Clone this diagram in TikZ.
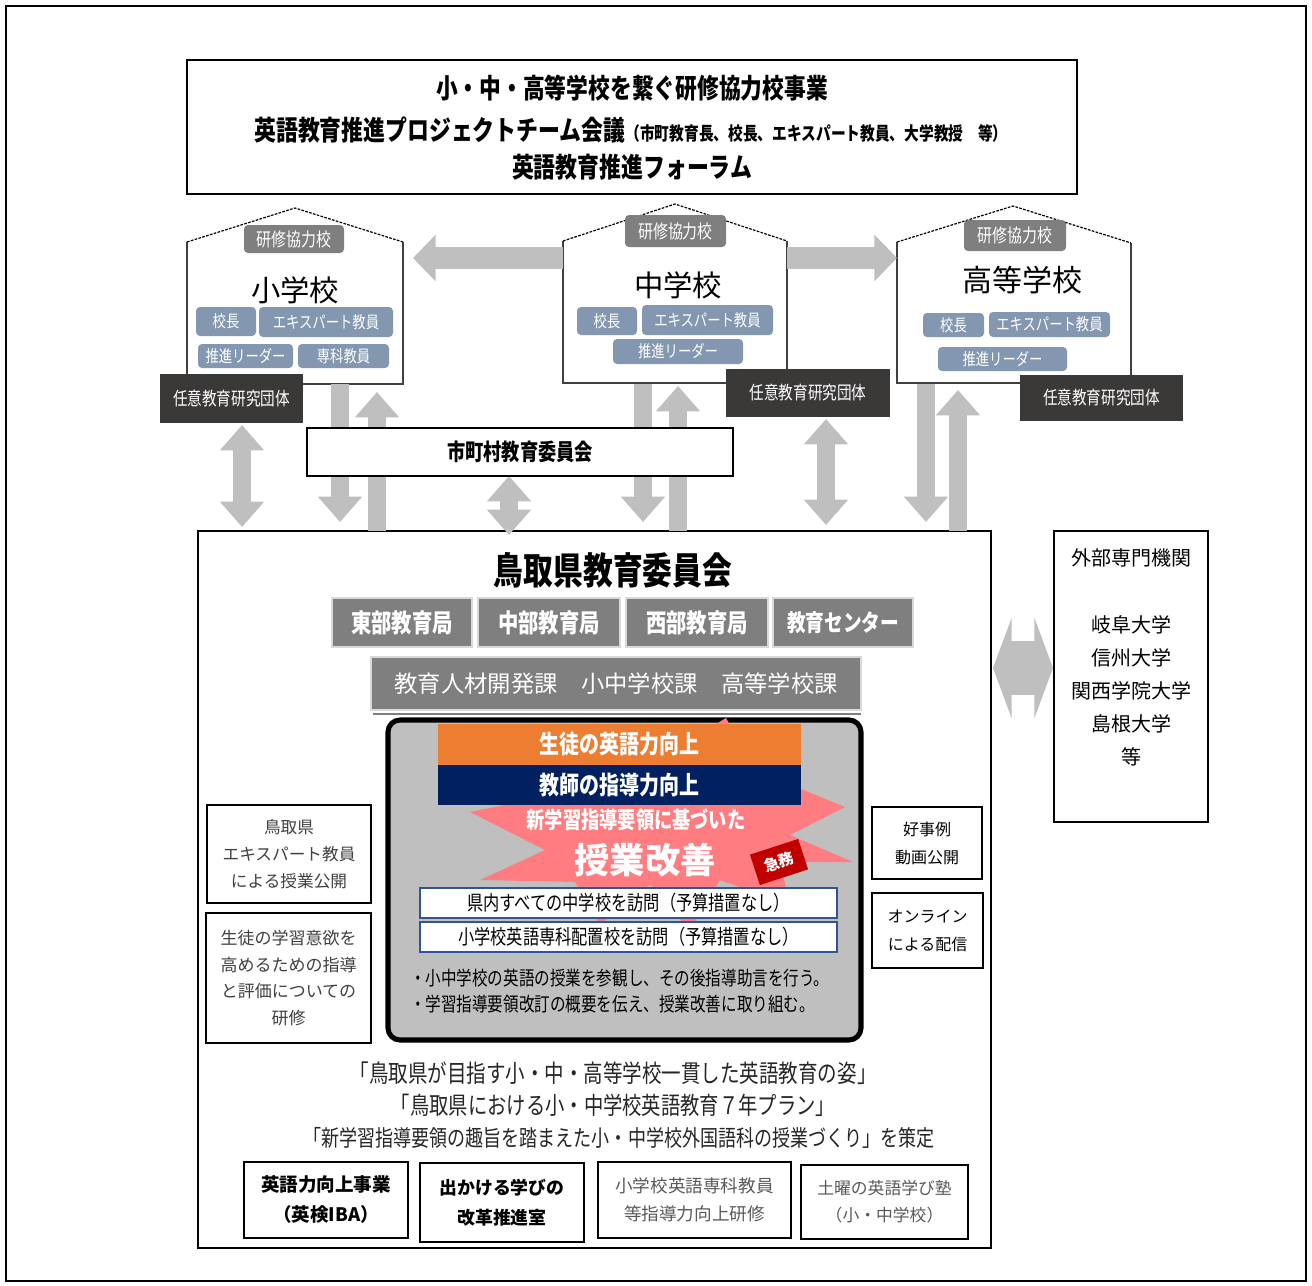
\documentclass[tikz,border=0pt]{standalone}
\usepackage{fontspec}
\setmainfont{Noto Sans CJK JP}
\newfontfamily\jpc[FakeStretch=0.8]{Noto Sans CJK JP}
\usetikzlibrary{arrows.meta}
\definecolor{cgray}{HTML}{7F7F7F}
\definecolor{cblue}{HTML}{8497B0}
\definecolor{cdark}{HTML}{3B3838}
\definecolor{carrow}{HTML}{BFBFBF}
\definecolor{cpanel}{HTML}{BFBFBF}
\definecolor{corange}{HTML}{ED7D31}
\definecolor{cnavy}{HTML}{002060}
\definecolor{cpink}{HTML}{FF7C80}
\definecolor{cred}{HTML}{C00000}
\definecolor{cwb}{HTML}{2F5597}
\definecolor{ctxt}{HTML}{404040}
\definecolor{ctxtl}{HTML}{595959}
\definecolor{clight}{HTML}{D9D9D9}
\newcommand\fsz[2]{\fontsize{#1}{#2}\selectfont}
\newcommand\mybox[7]{\node[#6,minimum width={((#4)-(#2))*0.75pt},minimum height={((#5)-(#3))*0.75pt},inner sep=0pt,outer sep=0pt] (#1) at ({((#2)+(#4))/2},{((#3)+(#5))/2}) {#7};}
\begin{document}
\begin{tikzpicture}[x=0.75pt,y=-0.75pt,
  frame/.style={draw=black,line width=1.3pt,fill=white,align=center},
  txt/.style={inner sep=0pt,outer sep=0pt,align=center},
  badge/.style={fill=cgray,rounded corners=3pt,text=white,font=\jpc\fsz{14}{16}},
  pbadge/.style={fill=cblue,rounded corners=3pt,text=white,font=\jpc\fsz{12.5}{14}},
  darkbox/.style={fill=cdark,text=white,font=\jpc\fsz{13.7}{16}},
  graybox/.style={fill=cgray,draw=clight,line width=0.8pt,text=white,align=center},
  wall/.style={draw=black!75,line width=0.9pt},
  roof/.style={draw=black,line width=0.9pt,dash pattern=on 2pt off 1pt},
  varr/.style={draw=carrow,line width=13.5pt,-{Triangle[width=32pt,length=19pt]}},
  vdarr/.style={draw=carrow,line width=13.5pt,{Triangle[width=32pt,length=19pt]}-{Triangle[width=32pt,length=19pt]}},
  harr/.style={draw=carrow,line width=16.5pt,-{Triangle[width=34pt,length=17pt]}},
  xdarr/.style={draw=carrow,line width=41pt,{Triangle[width=75pt,length=14pt]}-{Triangle[width=75pt,length=14pt]}},
  wbox/.style={draw=cwb,line width=0.8pt,fill=white,font=\jpc\fsz{15.2}{18}},
  hname/.style={txt,font=\fsz{22}{26}}
]
\useasboundingbox (0,0) rectangle (1312,1285);
\fill[white] (0,0) rectangle (1312,1285);
\draw[line width=2.2pt] (6,6) rectangle (1306,1281);

% ---------- top box ----------
\mybox{top}{187}{60}{1077}{194}{frame}{}
\node[txt,font=\jpc\bfseries\fsz{20.4}{24}] (top1) at (632,88) {小・中・高等学校を繋ぐ研修協力校事業};
\node[txt,font=\jpc\bfseries\fsz{20.5}{24}] (top2) at (631,130) {英語教育推進プロジェクトチーム会議{\fsz{13.8}{16}（市町教育長、校長、エキスパート教員、大学教授　等）}};
\node[txt,font=\jpc\bfseries\fsz{20.5}{24}] (top3) at (632,167) {英語教育推進フォーラム};

% ---------- main box (under arrows) ----------
\mybox{main}{198}{531}{991}{1248}{frame}{}

% ---------- houses ----------
\fill[white] (187,242) -- (295,208) -- (403,242) -- (403,384) -- (187,384) -- cycle;
\draw[wall] (187,242) -- (187,384) -- (403,384) -- (403,242);
\draw[roof] (187,242) -- (295,208) -- (403,242);
\fill[white] (563,241) -- (675,204) -- (787,241) -- (787,383) -- (563,383) -- cycle;
\draw[wall] (563,241) -- (563,383) -- (787,383) -- (787,241);
\draw[roof] (563,241) -- (675,204) -- (787,241);
\fill[white] (897,242) -- (1013,206) -- (1131,243) -- (1131,383) -- (897,383) -- cycle;
\draw[wall] (897,242) -- (897,383) -- (1131,383) -- (1131,243);
\draw[roof] (897,242) -- (1013,206) -- (1131,243);

% left house
\mybox{bL}{244}{225}{344}{253}{badge}{研修協力校}
\node[hname] (nL) at (295,290) {小学校};
\mybox{pL1}{196}{307}{256}{336}{pbadge}{校長}
\mybox{pL2}{259}{307}{393}{337}{pbadge}{エキスパート教員}
\mybox{pL3}{198}{344}{293}{368}{pbadge}{推進リーダー}
\mybox{pL4}{298}{344}{389}{368}{pbadge}{専科教員}
% middle house
\mybox{bM}{625}{215}{726}{247}{badge}{研修協力校}
\node[hname] (nM) at (678,285) {中学校};
\mybox{pM1}{577}{307}{637}{335}{pbadge}{校長}
\mybox{pM2}{642}{305}{773}{335}{pbadge}{エキスパート教員}
\mybox{pM3}{613}{339}{743}{364}{pbadge}{推進リーダー}
% right house
\mybox{bR}{964}{220}{1066}{251}{badge}{研修協力校}
\node[hname,font=\fsz{22.5}{26}] (nR) at (1022,280) {高等学校};
\mybox{pR1}{923}{313}{984}{337}{pbadge}{校長}
\mybox{pR2}{989}{312}{1110}{337}{pbadge}{エキスパート教員}
\mybox{pR3}{938}{347}{1067}{371}{pbadge}{推進リーダー}

% ---------- arrows ----------
\coordinate (hl-s) at (563,258); \coordinate (hl-e) at (413,258);
\coordinate (hr-s) at (787,258); \coordinate (hr-e) at (897,258);
\draw[harr] (hl-s) -- (hl-e);
\draw[harr] (hr-s) -- (hr-e);

\coordinate (a1s) at (242,425); \coordinate (a1e) at (242,527);
\coordinate (a2s) at (340,384); \coordinate (a2e) at (340,522);
\coordinate (a3s) at (377,531); \coordinate (a3e) at (377,392);
\coordinate (a4s) at (509,476); \coordinate (a4e) at (509,535);
\coordinate (a5s) at (643,384); \coordinate (a5e) at (643,522);
\coordinate (a6s) at (678,531); \coordinate (a6e) at (678,386);
\coordinate (a7s) at (826,419); \coordinate (a7e) at (826,525);
\coordinate (a8s) at (926,384); \coordinate (a8e) at (926,522);
\coordinate (a9s) at (958,531); \coordinate (a9e) at (958,390);
\draw[vdarr] (a1s) -- (a1e);
\draw[varr] (a2s) -- (a2e);
\draw[varr] (a3s) -- (a3e);
\draw[vdarr] (a4s) -- (a4e);
\draw[varr] (a5s) -- (a5e);
\draw[varr] (a6s) -- (a6e);
\draw[vdarr] (a7s) -- (a7e);
\draw[varr] (a8s) -- (a8e);
\draw[varr] (a9s) -- (a9e);

\coordinate (xa) at (993,668); \coordinate (xb) at (1053,668);
\draw[xdarr] (xa) -- (xb);

% dark boxes
\mybox{dL}{160}{374}{303}{423}{darkbox}{任意教育研究団体}
\mybox{dM}{726}{369}{890}{417}{darkbox}{任意教育研究団体}
\mybox{dR}{1020}{375}{1183}{421}{darkbox}{任意教育研究団体}

% municipal box
\mybox{muni}{307}{428}{733}{476}{frame,font=\jpc\bfseries\fsz{17.1}{20}}{市町村教育委員会}

% ---------- prefectural board ----------
\node[txt,font=\jpc\bfseries\fsz{27.9}{32}] (pref) at (613,570) {鳥取県教育委員会};
\mybox{g1}{332}{598}{472}{647}{graybox,font=\jpc\bfseries\fsz{19.1}{22}}{東部教育局}
\mybox{g2}{478}{598}{620}{647}{graybox,font=\jpc\bfseries\fsz{19.1}{22}}{中部教育局}
\mybox{g3}{626}{598}{768}{647}{graybox,font=\jpc\bfseries\fsz{19.1}{22}}{西部教育局}
\mybox{g4}{773}{598}{913}{647}{graybox,font=\jpc\bfseries\fsz{17.5}{22}}{教育センター}
\mybox{g5}{371}{657}{861}{710}{graybox,font=\fsz{17.5}{21}}{教育人材開発課　小中学校課　高等学校課}
\draw[cgray,line width=1.2pt] (373,714) -- (861,714);

% central panel
\mybox{panel}{388}{720}{861}{1040}{draw=black,line width=3.8pt,fill=cpanel,rounded corners=9pt}{}
\fill[cpink] (726,718) -- (755,770) -- (845,807) -- (790,835) -- (853,862) -- (780,862) -- (790,905) -- (720,880) -- (690,930) -- (650,885) -- (600,925) -- (575,882) -- (480,880) -- (545,850) -- (470,812) -- (555,795) -- (530,740) -- (640,770) -- cycle;
\mybox{or}{438}{724}{801}{765}{fill=corange,text=white,font=\jpc\bfseries\fsz{18.75}{22}}{生徒の英語力向上}
\mybox{nv}{438}{765}{801}{805}{fill=cnavy,text=white,font=\jpc\bfseries\fsz{18.75}{22}}{教師の指導力向上}
\node[txt,text=white,font=\jpc\bfseries\fsz{17.1}{20}] (s1) at (636,820) {新学習指導要領に基づいた};
\node[txt,text=white,font=\bfseries\fsz{26.5}{30}] (s2) at (645,860) {授業改善};
\node[fill=cred,text=white,font=\bfseries\fsz{11.5}{13},minimum width=38pt,minimum height=24pt,inner sep=0pt,rotate=18] (urg) at (779,862) {急務};
\mybox{w1}{420}{888}{837}{918}{wbox}{県内すべての中学校を訪問（予算措置なし）}
\mybox{w2}{420}{922}{837}{952}{wbox}{小学校英語専科配置校を訪問（予算措置なし）}
\node[txt,anchor=west,font=\jpc\fsz{14.6}{17}] (bl1) at (410,978) {・小中学校の英語の授業を参観し、その後指導助言を行う。};
\node[txt,anchor=west,font=\jpc\fsz{14.6}{17}] (bl2) at (410,1004) {・学習指導要領改訂の概要を伝え、授業改善に取り組む。};

% side boxes
\mybox{lA}{207}{805}{371}{903}{frame,text=ctxt,font=\fsz{12.5}{20}}{鳥取県\\エキスパート教員\\による授業公開}
\mybox{lB}{206}{913}{371}{1043}{frame,text=ctxt,font=\fsz{12.75}{20}}{生徒の学習意欲を\\高めるための指導\\と評価についての\\研修}
\mybox{rA}{872}{807}{982}{879}{frame,font=\fsz{12}{21}}{好事例\\動画公開}
\mybox{rB}{872}{893}{983}{968}{frame,font=\fsz{12}{21}}{オンライン\\による配信}

% external
\mybox{ext}{1054}{531}{1208}{822}{frame}{}
\node[txt,font=\fsz{15}{18}] (ex1) at (1131,558) {外部専門機関};
\node[txt,font=\fsz{15}{24.75}] (ex2) at (1131,691) {岐阜大学\\信州大学\\関西学院大学\\島根大学\\等};

% bottom texts
\node[txt,text=black!85,font=\jpc\fsz{18.3}{22}] (bt1) at (613,1073) {「鳥取県が目指す小・中・高等学校一貫した英語教育の姿」};
\node[txt,text=black!85,font=\jpc\fsz{18.1}{22}] (bt2) at (613,1105) {「鳥取県における小・中学校英語教育７年プラン」};
\node[txt,text=black!85,font=\jpc\fsz{16.9}{22}] (bt3) at (619,1138) {「新学習指導要領の趣旨を踏まえた小・中学校外国語科の授業づくり」を策定};

\mybox{k1}{244}{1162}{408}{1238}{frame,font=\bfseries\fsz{13.9}{22.5}}{英語力向上事業\\（英検IBA）}
\mybox{k2}{420}{1163}{584}{1242}{frame,font=\bfseries\fsz{13.4}{22.5}}{出かける学びの\\改革推進室}
\mybox{k3}{598}{1162}{791}{1238}{frame,text=ctxtl,font=\fsz{13.2}{21}}{小学校英語専科教員\\等指導力向上研修}
\mybox{k4}{801}{1165}{968}{1239}{frame,text=ctxtl,font=\fsz{12.6}{20}}{土曜の英語学び塾\\（小・中学校）}
\end{tikzpicture}
\end{document}
